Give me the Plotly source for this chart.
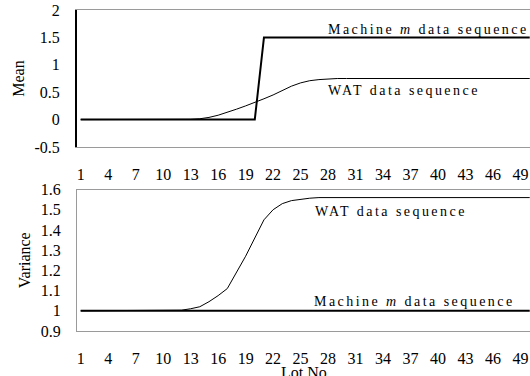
import plotly.graph_objects as go

lots = list(range(1, 51))
tick_lots = list(range(1, 50, 3))

machine_mean = [0.0] * 20 + [1.5] * 30
wat_mean = ([0.0] * 12 +
            [0.005, 0.015, 0.04, 0.08, 0.13, 0.19, 0.25, 0.31, 0.38, 0.45,
             0.53, 0.61, 0.67, 0.71, 0.73, 0.745] +
            [0.75] * 22)

machine_var = [1.0] * 50
wat_var = ([1.0] * 11 +
           [1.003, 1.01, 1.02, 1.045, 1.075, 1.11, 1.19, 1.27, 1.36, 1.45,
            1.50, 1.53, 1.545, 1.552, 1.557, 1.56] +
           [1.56] * 23)

mean_ticks = [-0.5, 0, 0.5, 1, 1.5, 2]
mean_tick_text = ["-0.5", "0", "0.5", "1", "1.5", "2"]
var_ticks = [0.9, 1.0, 1.1, 1.2, 1.3, 1.4, 1.5, 1.6]
var_tick_text = ["0.9", "1", "1.1", "1.2", "1.3", "1.4", "1.5", "1.6"]

FONT = "Liberation Serif, Times New Roman, serif"
GRAY = "#9a9a9a"

fig = go.Figure()
fig.add_trace(go.Scatter(x=lots, y=machine_mean, mode="lines",
                         line=dict(color="black", width=2), xaxis="x", yaxis="y"))
fig.add_trace(go.Scatter(x=lots, y=wat_mean, mode="lines",
                         line=dict(color="black", width=1), xaxis="x", yaxis="y"))
fig.add_trace(go.Scatter(x=lots, y=machine_var, mode="lines",
                         line=dict(color="black", width=2), xaxis="x2", yaxis="y2"))
fig.add_trace(go.Scatter(x=lots, y=wat_var, mode="lines",
                         line=dict(color="black", width=1), xaxis="x2", yaxis="y2"))

xcommon = dict(range=[0.6, 50.03], tickmode="array", tickvals=tick_lots,
               ticktext=[str(t) for t in tick_lots], showgrid=False, zeroline=False,
               showline=True, linecolor=GRAY, linewidth=1, mirror=True, ticks="",
               ticklabelstandoff=13, automargin=False,
               tickfont=dict(family=FONT, size=16, color="black"))

ycommon = dict(showgrid=False, zeroline=False, showline=True, ticks="",
               ticklabelstandoff=12, automargin=False, tickmode="array",
               tickfont=dict(family=FONT, size=16, color="black"))

fig.update_layout(
    width=530, height=376,
    margin=dict(l=77, r=0, t=10, b=45, autoexpand=False),
    paper_bgcolor="white", plot_bgcolor="white",
    showlegend=False,
    xaxis=dict(**xcommon, anchor="y"),
    xaxis2=dict(**xcommon, anchor="y2"),
    yaxis=dict(**ycommon, domain=[0.5732, 1.0], range=[-0.5, 2],
               tickvals=mean_ticks, ticktext=mean_tick_text,
               linecolor="black", linewidth=2, anchor="x",
               title=dict(text="Mean", font=dict(family=FONT, size=16, color="black"),
                          standoff=6)),
    yaxis2=dict(**ycommon, domain=[0.0, 0.4408], range=[0.9, 1.6],
                tickvals=var_ticks, ticktext=var_tick_text,
                linecolor=GRAY, linewidth=1, anchor="x2",
                title=dict(text="Variance", font=dict(family=FONT, size=16, color="black"),
                           standoff=6)),
)

# x-axis title placed just below the tick labels (as in the reference, partly clipped)
fig.add_annotation(x=0.5, y=-0.128, xref="paper", yref="paper", text="Lot No",
                   showarrow=False, xanchor="center", yanchor="middle",
                   font=dict(family=FONT, size=16, color="black"))

ann_font = dict(family=FONT, size=14, color="black")
fig.add_annotation(x=27.8, y=1.64, xref="x", yref="y", text="Machine <i>m</i> data sequence",
                   showarrow=False, xanchor="left", align="left", font=ann_font)
fig.add_annotation(x=27.8, y=0.53, xref="x", yref="y", text="WAT data sequence",
                   showarrow=False, xanchor="left", align="left", font=ann_font)
fig.add_annotation(x=26.4, y=1.49, xref="x2", yref="y2", text="WAT data sequence",
                   showarrow=False, xanchor="left", align="left", font=ann_font)
fig.add_annotation(x=26.2, y=1.048, xref="x2", yref="y2", text="Machine <i>m</i> data sequence",
                   showarrow=False, xanchor="left", align="left", font=ann_font)

post = """
document.body.style.margin = '0';
document.body.style.overflow = 'hidden';
document.querySelectorAll('.annotation-text').forEach(function(e){
  if (e.textContent.indexOf('sequence') >= 0) { e.style.letterSpacing = '2.45px'; }
});
"""
fig.write_html("out.html", post_script=post, config={"displayModeBar": False})
